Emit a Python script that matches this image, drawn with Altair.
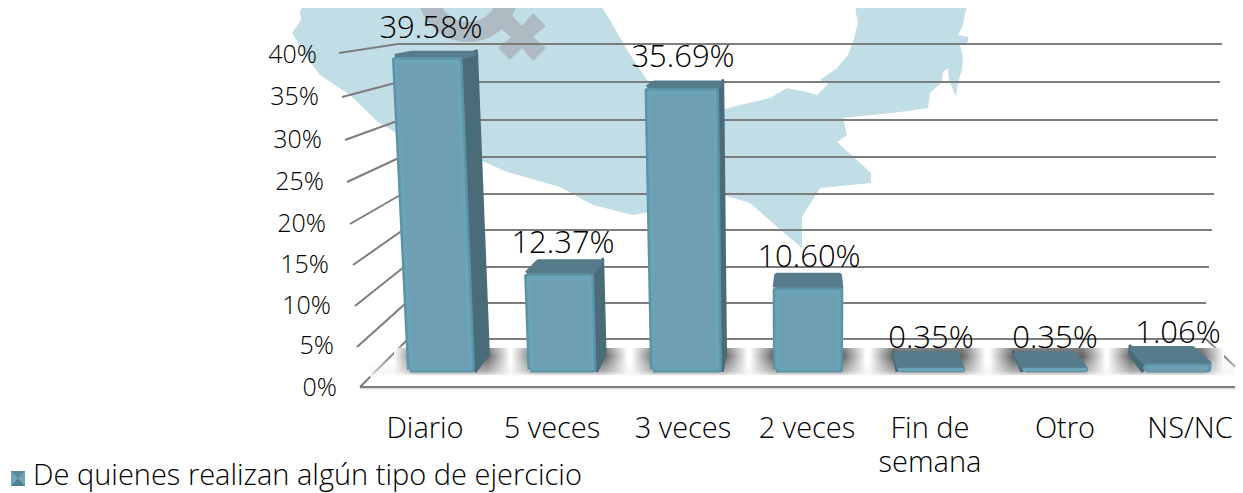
import altair as alt
import pandas as pd

# ---- data ----
categories = ["Diario", "5 veces", "3 veces", "2 veces", "Fin de\nsemana", "Otro", "NS/NC"]
values = [39.58, 12.37, 35.69, 10.60, 0.35, 0.35, 1.06]
value_labels = ["39.58%", "12.37%", "35.69%", "10.60%", "0.35%", "0.35%", "1.06%"]
axis_ticks = [40, 35, 30, 25, 20, 15, 10, 5, 0]
legend_text = "De quienes realizan algún tipo de ejercicio"

# page pixels of the reference used to set up the scales
W, H = 1227, 485
X0, DX = 441.0, 122.3      # category 0 and spacing
Y0, DY = 372.0, 7.96       # 0 % on the front plane and px per %
FONT = "Open Sans"

def ux(px): return (px - X0) / DX
def uy(py): return (Y0 - py) / DY

xs = alt.Scale(domain=[ux(8), ux(8 + W)], range=[0, W], nice=False, zero=False)
ys = alt.Scale(domain=[uy(8), uy(8 + H)], range=[0, H], nice=False, zero=False)
X = alt.X("x:Q", scale=xs, axis=None)
Y = alt.Y("y:Q", scale=ys, axis=None)

def poly(pts, fill=None, stroke=None, sw=1.0, closed=True, op=1.0):
    p = list(pts) + ([pts[0]] if closed else [])
    df = pd.DataFrame({"x": [ux(a) for a, _ in p], "y": [uy(b) for _, b in p], "i": range(len(p))})
    kw = dict(strokeJoin="round", strokeCap="butt", strokeWidth=sw, opacity=op)
    kw["stroke"] = stroke if stroke else "transparent"
    if fill:
        kw["fill"] = fill
    return alt.Chart(df).mark_line(clip=True, **kw).encode(x=X, y=Y, order=alt.Order("i:Q"))

def rect(x1, x2, y1, y2, fill):
    df = pd.DataFrame({"x": [ux(x1)], "x2": [ux(x2)], "y": [uy(y1)], "y2": [uy(y2)]})
    return alt.Chart(df).mark_rect(fill=fill, clip=True).encode(x=X, x2="x2:Q", y=Y, y2="y2:Q")

def text(rows, size, align="center", **extra):
    df = pd.DataFrame([{"x": ux(a), "y": uy(b), "t": t} for a, b, t in rows])
    return alt.Chart(df).mark_text(font=FONT, fontSize=size, fontWeight=300, align=align, baseline="middle",
                                   color="#000000", **extra).encode(x=X, y=Y, text="t:N")

def inset(q, dx, dy_top, dy_bot):
    """q = [bottom-left, top-left, top-right, bottom-right]"""
    return [(q[0][0] + dx, q[0][1] - dy_bot), (q[1][0] + dx, q[1][1] + dy_top),
            (q[2][0] - dx, q[2][1] + dy_top), (q[3][0] - dx, q[3][1] - dy_bot)]

layers = []

# ---- background map ----
map_outline = [(305,0),(597,0),(610,20),(627,50),(647,80),(690,100),(722,110),(740,105),(770,98),(787,88),
    (807,92),(817,95),(828,84),(820,80),(837,68),(848,55),(853,42),(858,23),(856,13),(855,0),(970,0),(965,13),
    (963,25),(958,35),(968,37),(968,42),(960,45),(963,57),(962,70),(958,82),(956,97),(949,80),(948,68),(943,72),
    (942,82),(930,93),(928,108),(900,112),(843,118),(847,135),(837,142),(871,173),(871,183),(820,188),(802,217),
    (802,248),(783,232),(750,203),(723,195),(660,210),(633,215),(593,205),(560,187),(507,172),(480,160),(440,150),
    (400,135),(378,122),(350,95),(320,75),(310,62),(292,33),(301,20),(300,12)]
layers.append(poly(map_outline, fill="#c1dde6"))

# ---- female symbol ----
symbol = pd.DataFrame({"x": [ux(468)], "y": [uy(-8)]})
layers.append(alt.Chart(symbol).mark_point(size=6400, stroke="#aebbc2", strokeWidth=20, fill=None, filled=False,
                                           opacity=1, clip=True).encode(x=X, y=Y))
cross = [(533,13),(546,26),(533,37),(546,48),(533,61),(522,48),(510,60),(498,48),(511,37),(488,18),(503,6),(522,26)]
layers.append(poly(cross, fill="#aebbc2"))

# ---- walls ----
GRID = "#7d7d7d"
back_y = [44, 82, 120, 157, 194, 230, 267, 303, 339]
left_start = [(339,53),(342,97),(345,140),(347,182),(350,224),(353,265),(355,306),(357,347),(360,387)]
left_x = [398, 399, 400, 401, 402, 403, 404, 406, 408]
right_x = [1222, 1220, 1218, 1216, 1214, 1212, 1209, 1206, 1206]
for i in range(len(back_y)):
    layers.append(poly([(left_start[i][0], left_start[i][1]), (left_x[i], back_y[i]), (right_x[i], back_y[i])],
                       stroke=GRID, sw=2, closed=False))
layers.append(poly([(360,388.5),(1260,388.5)], stroke="#dddddd", sw=2, closed=False))
layers.append(poly([(360,387),(1260,387)], stroke=GRID, sw=2, closed=False))
layers.append(poly([(1206,339),(1250,381)], stroke=GRID, sw=2, closed=False))

# ---- floor shadows ----
VX = 810.0
centers = [441, 562, 686, 808, 931, 1055, 1177]
half_w = [34, 34.5, 36, 35, 34, 33, 34]
for c in centers:
    sc = c + (VX - c) * 0.03
    grad = alt.Gradient(gradient="linear", x1=0, x2=1, y1=0, y2=0, stops=[
        alt.GradientStop(offset=0, color="#ffffff"), alt.GradientStop(offset=0.2, color="#555555"),
        alt.GradientStop(offset=0.8, color="#555555"), alt.GradientStop(offset=1, color="#ffffff")])
    layers.append(rect(sc - 58, sc + 58, 348, 375, grad))
fade = alt.Gradient(gradient="linear", x1=0, x2=0, y1=0, y2=1, stops=[
    alt.GradientStop(offset=0, color="rgba(255,255,255,0.3)"), alt.GradientStop(offset=0.35, color="rgba(255,255,255,0.08)"),
    alt.GradientStop(offset=0.8, color="rgba(240,240,240,0.55)"), alt.GradientStop(offset=1, color="rgba(255,255,255,1)")])
layers.append(rect(370, 1243, 346, 377, fade))

# ---- bars ----
def fx(x0, p): return x0 + (x0 - VX) * 0.00094 * p
def fy(p): return Y0 - DY * p
def depth(p): return 18 - 0.3 * p
def bx(x): return x + (VX - x) * 0.04

for c, h, v in zip(centers, half_w, values):
    l0, r0 = c - h, c + h
    fl_b, fr_b = (fx(l0, 0), fy(0)), (fx(r0, 0), fy(0))
    fl_t, fr_t = (fx(l0, v), fy(v)), (fx(r0, v), fy(v))
    d = depth(v)
    bl_t = (bx(fl_t[0]), fy(v) - d)
    br_t = (bx(fr_t[0]), fy(v) - d)
    if c < VX - 5:
        side = [fr_b, fr_t, br_t, (bx(fr_b[0]), fy(0) - depth(0))]
    elif c > VX + 5:
        side = [fl_b, fl_t, bl_t, (bx(fl_b[0]), fy(0) - depth(0))]
    else:
        side = None
    if side:
        layers.append(poly(side, fill="#4a6b78", stroke="#4a6b78", sw=3))
    top = [(fl_t[0] + 3, fl_t[1] - 0), (fr_t[0] - 3, fr_t[1] - 0), (br_t[0] - 3, br_t[1] + 3), (bl_t[0] + 3, bl_t[1] + 3)]
    layers.append(poly(top, fill="#567b8a", stroke="#567b8a", sw=6))
    front = [fl_b, fl_t, fr_t, fr_b]
    if v > 1:
        layers.append(poly(inset(front, 3, 3, 2.5), fill="#5c93a7", stroke="#5c93a7", sw=6))
        layers.append(poly(inset(front, 4.5, 4.5, 3.5), fill="#6e9fb1", stroke="#6ba3b8", sw=4))
        layers.append(poly(inset(front, 7, 7, 6), fill="#6e9fb1", stroke="#6e9fb1", sw=1))
    else:
        layers.append(poly(inset(front, 2, 0, 2), fill="#69a5bb", stroke="#69a5bb", sw=3))

# ---- text ----
tick_x = [317, 319, 322, 324, 326, 329, 331, 334, 337]
tick_y = [55, 97, 140, 182, 224, 265, 306, 346, 388]
layers.append(text([(a, b, f"{t}%") for a, b, t in zip(tick_x, tick_y, axis_ticks)], 25, "right"))

label_x = [431, 563, 683, 809, 931, 1055, 1178]
layers.append(text([(a, max(fy(v) - 30, 29), t) for a, v, t in zip(label_x, values, value_labels)], 31))

cat_x = [425, 552, 683, 807, 930, 1065, 1190]
layers.append(text([(a, 429, cname) for a, cname in zip(cat_x, categories)], 29, lineBreak="\n", lineHeight=34))

# ---- legend ----
lx0, lx1, ly0, ly1 = 11, 25, 471, 486
mx, my = (lx0 + lx1) / 2, (ly0 + ly1) / 2
layers.append(poly([(lx0, ly0), (lx1, ly0), (lx1, ly1), (lx0, ly1)], fill="#6fa5b8"))
layers.append(poly([(lx0, ly0), (lx1, ly0), (mx, my)], fill="#5b8799"))
layers.append(poly([(lx0, ly1), (lx1, ly1), (mx, my)], fill="#4f7f92"))
layers.append(text([(33, 476, legend_text)], 29, "left"))

chart = alt.layer(*layers).properties(width=W, height=H, padding=0,
        autosize=alt.AutoSizeParams(type="none")).configure_view(stroke=None)
chart.save("out.html", embed_options={"renderer": "svg", "actions": False})
